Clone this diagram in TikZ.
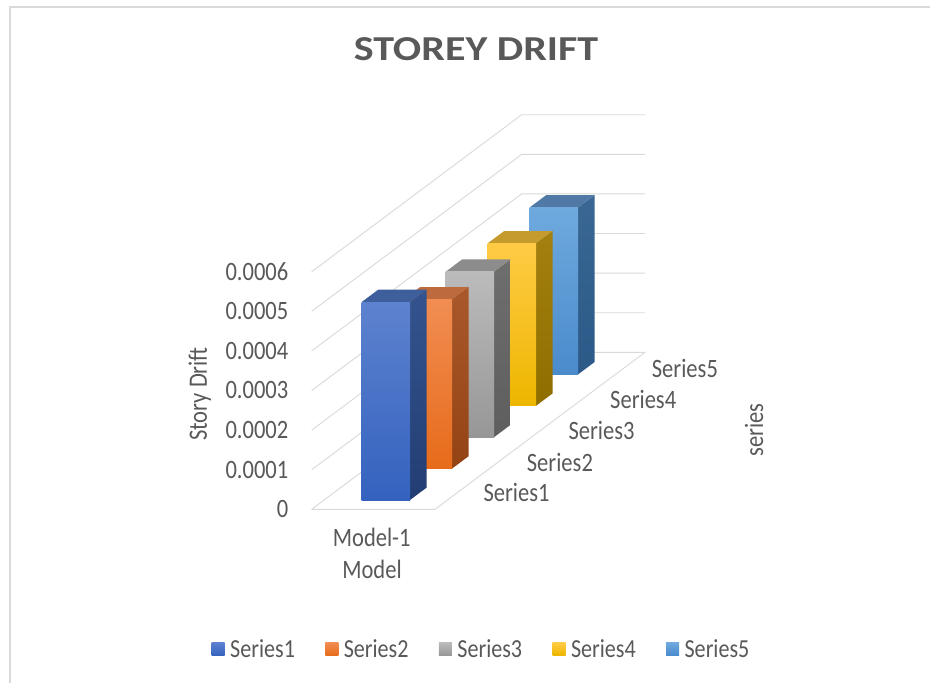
\documentclass[tikz,border=0pt]{standalone}
\usepackage{fontspec}
\newfontfamily\lblfont[FakeStretch=0.85]{Carlito}
\newfontfamily\ttlfont[FakeStretch=1.2]{Carlito}
\definecolor{txt}{HTML}{595959}
\definecolor{gridc}{HTML}{D9D9D9}
\definecolor{framec}{HTML}{D9D9D9}
% series colours: front top / front bottom / side top / side bottom / top face
\definecolor{aFt}{HTML}{5D82CF}\definecolor{aFb}{HTML}{3462BE}\definecolor{aSt}{HTML}{34548F}\definecolor{aSb}{HTML}{223D72}\definecolor{aT}{HTML}{3F5E9C}
\definecolor{bFt}{HTML}{F18D52}\definecolor{bFb}{HTML}{E76B1A}\definecolor{bSt}{HTML}{A8582A}\definecolor{bSb}{HTML}{944414}\definecolor{bT}{HTML}{BC6A3E}
\definecolor{cFt}{HTML}{BBBBBB}\definecolor{cFb}{HTML}{979797}\definecolor{cSt}{HTML}{6E6E6E}\definecolor{cSb}{HTML}{5E5E5E}\definecolor{cT}{HTML}{8C8C8C}
\definecolor{dFt}{HTML}{FFCB45}\definecolor{dFb}{HTML}{EDB600}\definecolor{dSt}{HTML}{A3800F}\definecolor{dSb}{HTML}{8F6E00}\definecolor{dT}{HTML}{C59B2E}
\definecolor{eFt}{HTML}{6FA9DE}\definecolor{eFb}{HTML}{4A8BCC}\definecolor{eSt}{HTML}{3A6794}\definecolor{eSb}{HTML}{2B5A88}\definecolor{eT}{HTML}{5079A6}
\newcommand\drawbarbox[3]{%
  \pgfmathsetmacro\bx{361.7+42*#1}%
  \pgfmathsetmacro\by{500-31.4*#1}%
  \pgfmathsetmacro\bt{\by-#2}%
  \shade[top color=#3St,bottom color=#3Sb] (\bx+48.3,\by) -- (\bx+64.8,\by-12.3) -- (\bx+64.8,\bt-12.3) -- (\bx+48.3,\bt) -- cycle;
  \fill[#3T] (\bx,\bt) -- (\bx+48.3,\bt) -- (\bx+64.8,\bt-12.3) -- (\bx+16.5,\bt-12.3) -- cycle;
  \shade[top color=#3Ft,bottom color=#3Fb] (\bx,\bt) rectangle (\bx+48.3,\by);
}
\begin{document}
\begin{tikzpicture}[x=1pt,y=-1pt,
  lbl/.style={text=txt,inner sep=0pt,font=\lblfont\fontsize{26.5}{30}\selectfont},
  leg/.style={text=txt,inner sep=0pt,anchor=west,font=\lblfont\fontsize{26}{30}\selectfont},
  gridline/.style={draw=gridc,line width=0.9pt}]
\useasboundingbox (0,0) rectangle (930,683);
\fill[white] (0,0) rectangle (930,683);
\draw[framec,line width=1.6pt] (10,683) -- (10,7) -- (930,7);
% walls and floor
\foreach \k in {0,...,6}{
  \draw[gridline] (311.7,{509.3-39.6*\k}) -- (521.7,{352.3-39.6*\k}) -- (645,{352.3-39.6*\k});
}
\draw[gridline] (311.7,509.3) -- (435,509.3) -- (645,352.3);
% bars (back to front)
\drawbarbox{4}{167}{e}
\drawbarbox{3}{162.5}{d}
\drawbarbox{2}{165.5}{c}
\drawbarbox{1}{169.3}{b}
\drawbarbox{0}{198}{a}
% title
\node[text=txt,inner sep=0pt,font=\ttlfont\bfseries\fontsize{35}{40}\selectfont] (title) at (476,48.7) {STOREY DRIFT};
% value axis
\foreach \v [count=\k from 0] in {0,0.0001,0.0002,0.0003,0.0004,0.0005,0.0006}{
  \node[lbl,anchor=east] (tick\k) at (288.5,{509.3-39.6*\k}) {\v};
}
\node[lbl,rotate=90] (ytitle) at (200,394) {Story Drift};
% category axis
\node[lbl] (cat1) at (371.7,537.5) {Model-1};
\node[lbl] (xtitle) at (372,569.5) {Model};
% series axis
\node[lbl,anchor=west] (s1) at (483.3,492.5) {Series1};
\node[lbl,anchor=west] (s2) at (526.7,462) {Series2};
\node[lbl,anchor=west] (s3) at (568.3,430.5) {Series3};
\node[lbl,anchor=west] (s4) at (610,399.5) {Series4};
\node[lbl,anchor=west] (s5) at (651.7,368) {Series5};
\node[lbl,rotate=90] (ztitle) at (754,430) {series};
% legend
\foreach \c/\n [count=\i from 0] in {a/Series1,b/Series2,c/Series3,d/Series4,e/Series5}{
  \shade[top color=\c Ft,bottom color=\c Fb] ({211.7+113.6*\i},642.5) rectangle ({224.7+113.6*\i},655.5);
  \node[leg] (leg\i) at ({230+113.6*\i},648.5) {\n};
}
\end{tikzpicture}
\end{document}
